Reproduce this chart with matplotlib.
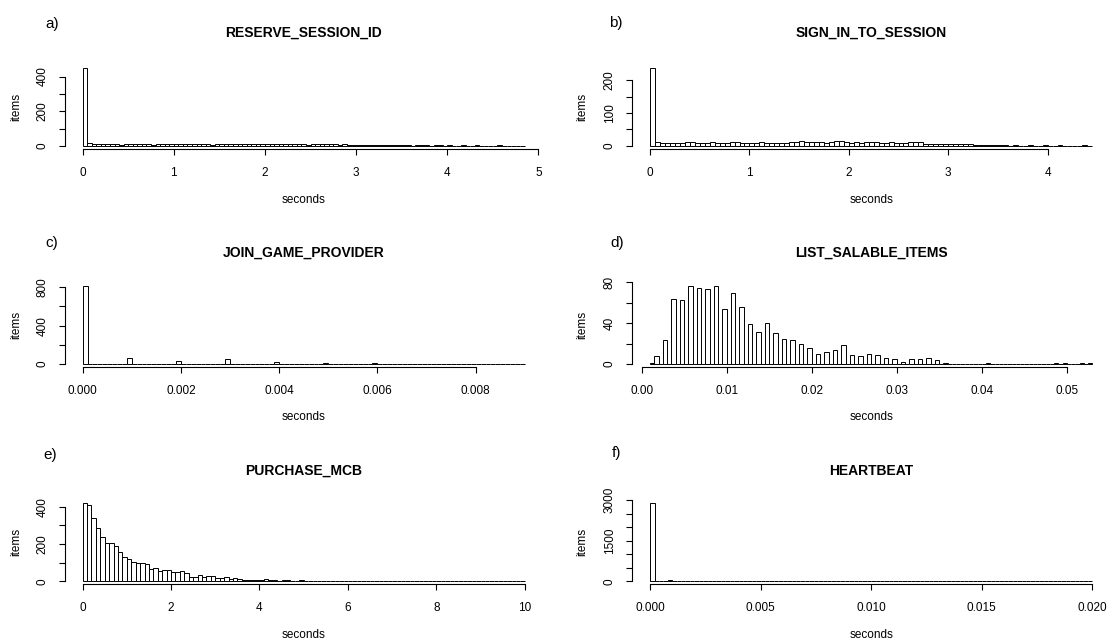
import matplotlib.pyplot as plt
import numpy as np

plt.rcParams["font.family"] = ["Liberation Sans", "DejaVu Sans"]

W, H = 1107, 642

# a) RESERVE_SESSION_ID : bins of 0.05 s from 0
reserve_counts = [452,
                  15, 10, 9, 9, 9, 10, 9, 8, 10, 9, 11, 9, 9, 10, 8, 9, 10, 10, 9,
                  11, 10, 9, 9, 10, 10, 9, 9, 8, 10, 11, 10, 11, 10, 11, 12, 10, 9, 10, 9,
                  10, 9, 9, 11, 10, 10, 11, 9, 10, 8, 9, 11, 12, 12, 11, 10, 8, 9, 6, 5,
                  4, 5, 6, 4, 5, 3, 4, 5, 3, 3, 4, 3, 2, 3, 4, 3, 2, 3, 3, 2,
                  3, 2, 2, 3, 2, 2, 3, 2, 2, 2, 2, 3, 2, 2, 2, 2, 1]

# b) SIGN_IN_TO_SESSION : bins of 0.05 s from 0
sign_in_counts = [238,
                  11, 10, 10, 8, 8, 10, 11, 11, 10, 9, 8, 12, 8, 9, 9, 12, 11, 9, 9,
                  8, 10, 11, 9, 10, 8, 9, 10, 13, 12, 14, 11, 12, 13, 11, 10, 12, 14, 16, 12,
                  10, 11, 9, 12, 13, 11, 10, 9, 11, 10, 10, 9, 11, 12, 11, 6, 5, 6, 5, 6,
                  5, 6, 5, 5, 5, 4, 3, 3, 2, 3, 2, 2, 1, 2, 1, 1, 2, 1, 1, 2,
                  1, 1, 2, 1, 1, 1, 1, 2, 1]

# c) JOIN_GAME_PROVIDER : values in ms with counts
join_ms = [0, 1, 2, 3, 4, 5, 6, 7, 9]
join_counts = [817, 65, 30, 55, 20, 8, 5, 1, 1]

# d) LIST_SALABLE_ITEMS : values in ms with counts
list_ms = [1, 2, 3, 4, 5, 6, 7, 8, 9, 10, 11, 12, 13, 14, 15, 16, 17, 18, 19, 20,
           21, 22, 23, 24, 25, 26, 27, 28, 29, 30, 31, 32, 33, 34, 35, 36, 41, 49, 50, 52, 53]
list_counts = [1, 8, 24, 64, 63, 77, 75, 74, 77, 54, 70, 56, 39, 31, 40, 30, 25, 24, 20, 16,
               10, 12, 14, 19, 9, 8, 10, 9, 6, 5, 2, 5, 5, 6, 4, 1, 1, 1, 1, 1, 1]

# e) PURCHASE_MCB : bins of 0.1 s from 0
purchase_counts = [421, 407, 337, 286, 238, 205, 207, 187, 157, 128,
                   122, 101, 97, 97, 90, 65, 72, 54, 59, 59,
                   52, 52, 56, 43, 22, 23, 32, 25, 27, 27,
                   16, 18, 22, 14, 18, 13, 9, 9, 7, 7,
                   7, 11, 5, 5, 4, 5, 7, 4, 4, 5,
                   3, 2, 4, 2, 3, 2, 3, 2, 1, 2,
                   2, 3, 3, 1, 2, 1, 1, 2, 1, 1,
                   1, 2, 1, 1, 2, 1, 0, 1, 1, 0,
                   1, 0, 1, 1, 0, 1, 0, 0, 1, 0,
                   0, 1, 0, 0, 1, 1, 0, 0, 0, 1]

# f) HEARTBEAT : values in ms with counts
heartbeat_ms = [0, 1, 2, 3, 4, 20]
heartbeat_counts = [2900, 50, 20, 8, 8, 1]


def sparse_bins(ms_vals, counts, start, width, nbins):
    # right-closed bins like R's hist, first bin includes its lower edge
    h = np.zeros(nbins)
    for v, c in zip(ms_vals, counts):
        i = int(round((v / 1000.0 - start) / width)) - 1
        h[max(i, 0)] += c
    return h


panels = [
    dict(letter="a)", title="RESERVE_SESSION_ID", start=0.0, width=0.05,
         heights=np.array(reserve_counts, float),
         xticks=[0, 1, 2, 3, 4, 5], xlabels=["0", "1", "2", "3", "4", "5"],
         yticks=[0, 100, 200, 300, 400], ylabels=["0", "", "200", "", "400"]),
    dict(letter="b)", title="SIGN_IN_TO_SESSION", start=0.0, width=0.05,
         heights=np.array(sign_in_counts, float),
         xticks=[0, 1, 2, 3, 4], xlabels=["0", "1", "2", "3", "4"],
         yticks=[0, 50, 100, 150, 200], ylabels=["0", "", "100", "", "200"]),
    dict(letter="c)", title="JOIN_GAME_PROVIDER", start=0.0, width=0.0001,
         heights=sparse_bins(join_ms, join_counts, 0.0, 0.0001, 90),
         xticks=[0, 0.002, 0.004, 0.006, 0.008],
         xlabels=["0.000", "0.002", "0.004", "0.006", "0.008"],
         yticks=[0, 200, 400, 600, 800], ylabels=["0", "", "400", "", "800"]),
    dict(letter="d)", title="LIST_SALABLE_ITEMS", start=0.001, width=0.0005,
         heights=sparse_bins(list_ms, list_counts, 0.001, 0.0005, 104),
         xticks=[0, 0.01, 0.02, 0.03, 0.04, 0.05],
         xlabels=["0.00", "0.01", "0.02", "0.03", "0.04", "0.05"],
         yticks=[0, 20, 40, 60, 80], ylabels=["0", "", "40", "", "80"]),
    dict(letter="e)", title="PURCHASE_MCB", start=0.0, width=0.1,
         heights=np.array(purchase_counts, float),
         xticks=[0, 2, 4, 6, 8, 10], xlabels=["0", "2", "4", "6", "8", "10"],
         yticks=[0, 100, 200, 300, 400], ylabels=["0", "", "200", "", "400"]),
    dict(letter="f)", title="HEARTBEAT", start=0.0, width=0.0002,
         heights=sparse_bins(heartbeat_ms, heartbeat_counts, 0.0, 0.0002, 100),
         xticks=[0, 0.005, 0.010, 0.015, 0.020],
         xlabels=["0.000", "0.005", "0.010", "0.015", "0.020"],
         yticks=[0, 500, 1000, 1500, 2000, 2500, 3000],
         ylabels=["0", "", "", "1500", "", "", "3000"]),
]

# plot regions in pixels
col_left = [64.9, 632.4]
row_bottom = [149.1, 367.1, 584.4]
plot_w, plot_h = 477.6, 84.7
letter_pos = [(52, 24), (616, 23), (52, 243), (617, 243), (50, 455), (617, 453)]
title_y = [33, 253, 471]
seconds_y = [200, 417, 635]
items_x = [15.8, 582.7]

fig = plt.figure(figsize=(W / 100, H / 100), dpi=100)

for k, p in enumerate(panels):
    r, c = divmod(k, 2)
    left, bottom = col_left[c], row_bottom[r]
    ax = fig.add_axes([left / W, 1 - bottom / H, plot_w / W, plot_h / H])

    n = len(p["heights"])
    edges = p["start"] + p["width"] * np.arange(n)
    ax.bar(edges, p["heights"], width=p["width"], align="edge",
           color="white", edgecolor="black", linewidth=0.7)

    rng = n * p["width"]
    ymax = p["heights"].max()
    ax.set_xlim(p["start"] - 0.04 * rng, p["start"] + 1.04 * rng)
    ax.set_ylim(-0.04 * ymax, 1.04 * ymax)

    for s in ["top", "right"]:
        ax.spines[s].set_visible(False)
    ax.spines["left"].set_bounds(p["yticks"][0], p["yticks"][-1])
    ax.spines["bottom"].set_bounds(p["xticks"][0], p["xticks"][-1])
    for s in ["left", "bottom"]:
        ax.spines[s].set_linewidth(0.8)

    ax.set_xticks(p["xticks"])
    ax.set_xticklabels(p["xlabels"], fontsize=8.5)
    ax.set_yticks(p["yticks"])
    ax.set_yticklabels(p["ylabels"], fontsize=8.5, rotation=90, va="center")
    ax.tick_params(axis="both", length=4, width=0.8, direction="out")
    ax.tick_params(axis="x", pad=9)
    ax.tick_params(axis="y", pad=8)
    ax.patch.set_alpha(0)

    cx = left + plot_w / 2
    fig.text(cx / W, 1 - title_y[r] / H, p["title"], ha="center", va="center",
             fontsize=10, fontweight="bold")
    fig.text(cx / W, 1 - seconds_y[r] / H, "seconds", ha="center", va="center",
             fontsize=8.5)
    fig.text(items_x[c] / W, 1 - (bottom - plot_h / 2) / H, "items", ha="center",
             va="center", rotation=90, fontsize=8.5)
    lx, ly = letter_pos[k]
    fig.text(lx / W, 1 - ly / H, p["letter"], ha="center", va="center", fontsize=11)

fig.savefig("out.png", dpi=100)
